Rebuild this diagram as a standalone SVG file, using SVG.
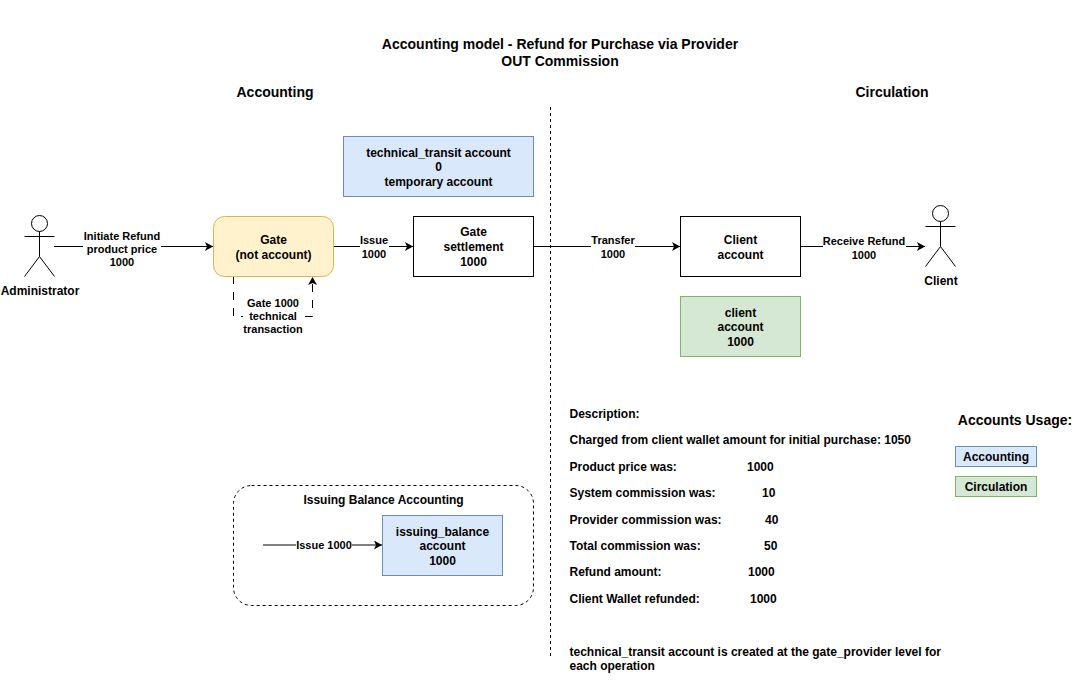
<svg xmlns="http://www.w3.org/2000/svg" width="1085" height="686" viewBox="0 0 1085 686">
<style>
text{font-family:"Liberation Sans",Arial,sans-serif;font-weight:bold;font-size:12px;fill:#000;text-anchor:middle}
.s{font-size:11px}
.l{text-anchor:start}
.h{font-size:14px}
.box{fill:#fff;stroke:#000;stroke-width:1}
.blue{fill:#dae8fc;stroke:#6c8ebf;stroke-width:1}
.green{fill:#d5e8d4;stroke:#82b366;stroke-width:1}
.line{fill:none;stroke:#000;stroke-width:1}
.actor{fill:#fff;stroke:#000;stroke-width:1}
.bg{fill:#fff;stroke:none}
</style>
<defs>
<marker id="a" markerUnits="userSpaceOnUse" markerWidth="10" markerHeight="10" refX="8" refY="4.500" orient="auto"><path d="M0 0L8 4.500L0 9L2 4.500Z" fill="#000"/></marker>
</defs>
<rect width="1085" height="686" fill="#fff"/>
<g id="titles">
<text class="h" x="560" y="49">Accounting model - Refund for Purchase via Provider</text>
<text class="h" x="560" y="66">OUT Commission</text>
<text class="h" x="275" y="97">Accounting</text>
<text class="h" x="892" y="97">Circulation</text>
</g>
<g id="connectors">
<path class="line" stroke-dasharray="3 3" d="M550.500 107V657"/>
<path class="line" marker-end="url(#a)" d="M54 246.500H213"/>
<path class="line" marker-end="url(#a)" d="M333 246.500H413"/>
<path class="line" marker-end="url(#a)" d="M533 246.500H680"/>
<path class="line" marker-end="url(#a)" d="M800 246.500H925"/>
<path class="line" stroke-dasharray="8 8" marker-end="url(#a)" d="M233.500 276V316.500H312.500V277"/>
<path class="line" marker-end="url(#a)" d="M263 545H382"/>
</g>
<g id="admin">
<circle class="actor" cx="39.500" cy="223.500" r="8"/>
<path class="line" d="M39.500 231.500V256.500M24.500 236.500H54.500M39.500 256.500L24.500 276.500M39.500 256.500L54.500 276.500"/>
<text x="40" y="295">Administrator</text>
</g>
<g id="gate">
<rect x="213.500" y="216.500" width="120" height="60" rx="11" fill="#fff2cc" stroke="#d6b656"/>
<text x="273.500" y="244">Gate</text>
<text x="273.500" y="259">(not account)</text>
</g>
<g id="gate-settlement">
<rect class="box" x="413.500" y="216.500" width="120" height="60"/>
<text x="473.500" y="236">Gate</text>
<text x="473.500" y="251">settlement</text>
<text x="473.500" y="266">1000</text>
</g>
<g id="technical-transit">
<rect class="blue" x="343.500" y="136.500" width="190" height="60"/>
<text x="438.500" y="157">technical_transit account</text>
<text x="438.500" y="171">0</text>
<text x="438.500" y="186">temporary account</text>
</g>
<g id="client-account-node">
<rect class="box" x="680.500" y="216.500" width="120" height="60"/>
<text x="740.500" y="244">Client</text>
<text x="740.500" y="259">account</text>
</g>
<g id="client-account-green">
<rect class="green" x="680.500" y="296.500" width="120" height="60"/>
<text x="740.500" y="317">client</text>
<text x="740.500" y="331">account</text>
<text x="740.500" y="346">1000</text>
</g>
<g id="client">
<circle class="actor" cx="940.500" cy="213.500" r="8"/>
<path class="line" d="M940.500 221.500V246.500M925.500 226.500H955.500M940.500 246.500L925.500 266.500M940.500 246.500L955.500 266.500"/>
<text x="941" y="285">Client</text>
</g>
<g id="labels">
<rect class="bg" x="83" y="230" width="78" height="40"/>
<text class="s" x="122" y="240">Initiate Refund</text>
<text class="s" x="122" y="253">product price</text>
<text class="s" x="122" y="266">1000</text>
<rect class="bg" x="360" y="235" width="29" height="27"/>
<text class="s" x="374" y="244">Issue</text>
<text class="s" x="374" y="258">1000</text>
<rect class="bg" x="591" y="235" width="44" height="27"/>
<text class="s" x="613" y="244">Transfer</text>
<text class="s" x="613" y="258">1000</text>
<rect class="bg" x="823" y="235" width="83" height="27"/>
<text class="s" x="864" y="245">Receive Refund</text>
<text class="s" x="864" y="259">1000</text>
<rect class="bg" x="243" y="296" width="62" height="40"/>
<text class="s" x="273" y="307">Gate 1000</text>
<text class="s" x="273" y="320">technical</text>
<text class="s" x="273" y="333">transaction</text>
<rect class="bg" x="296" y="540" width="56" height="12"/>
<text class="s" x="324" y="549">Issue 1000</text>
</g>
<g id="issuing-balance">
<rect x="233.500" y="485.500" width="300" height="120" rx="18" fill="none" stroke="#000" stroke-dasharray="3 3"/>
<text x="383.500" y="504">Issuing Balance Accounting</text>
<rect class="blue" x="382.500" y="515.500" width="120" height="60"/>
<text x="442.500" y="536">issuing_balance</text>
<text x="442.500" y="550">account</text>
<text x="442.500" y="565">1000</text>
</g>
<g id="description">
<text class="l" x="569.500" y="418">Description:</text>
<text class="l" x="569.500" y="444">Charged from client wallet amount for initial purchase: 1050</text>
<text class="l" x="569.500" y="471">Product price was:</text><text class="l" x="747" y="471">1000</text>
<text class="l" x="569.500" y="497">System commission was:</text><text class="l" x="762" y="497">10</text>
<text class="l" x="569.500" y="524">Provider commission was:</text><text class="l" x="765" y="524">40</text>
<text class="l" x="569.500" y="550">Total commission was:</text><text class="l" x="764" y="550">50</text>
<text class="l" x="569.500" y="576">Refund amount:</text><text class="l" x="748" y="576">1000</text>
<text class="l" x="569.500" y="603">Client Wallet refunded:</text><text class="l" x="750" y="603">1000</text>
<text class="l" x="569.500" y="656">technical_transit account is created at the gate_provider level for</text>
<text class="l" x="569.500" y="670">each operation</text>
</g>
<g id="usage">
<text class="h" x="1015" y="425">Accounts Usage:</text>
<rect class="blue" x="955.500" y="446.500" width="81" height="20"/>
<text x="996" y="461">Accounting</text>
<rect class="green" x="955.500" y="476.500" width="81" height="20"/>
<text x="996" y="491">Circulation</text>
</g>
</svg>
